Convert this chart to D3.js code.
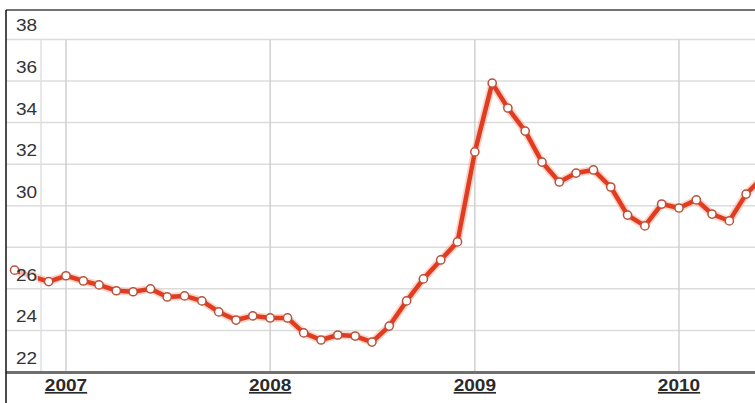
<!DOCTYPE html>
<html>
<head>
<meta charset="utf-8">
<script src="https://cdn.jsdelivr.net/npm/d3@7"></script>
<style>
  html, body { margin: 0; padding: 0; background: #fff; }
  svg { display: block; }
  text { font-family: "Liberation Sans", Arial, sans-serif; }
</style>
</head>
<body>
<svg id="chart" width="755" height="403"></svg>
<script>
// Monthly closing prices
const months = [
  "2006-10", "2006-11", "2006-12",
  "2007-01", "2007-02", "2007-03", "2007-04", "2007-05", "2007-06",
  "2007-07", "2007-08", "2007-09", "2007-10", "2007-11", "2007-12",
  "2008-01", "2008-02", "2008-03", "2008-04", "2008-05", "2008-06",
  "2008-07", "2008-08", "2008-09", "2008-10", "2008-11", "2008-12",
  "2009-01", "2009-02", "2009-03", "2009-04", "2009-05", "2009-06",
  "2009-07", "2009-08", "2009-09", "2009-10", "2009-11", "2009-12",
  "2010-01", "2010-02", "2010-03", "2010-04", "2010-05", "2010-06"
];
const prices = [
  26.9, 26.6, 26.35,
  26.63, 26.38, 26.19, 25.91, 25.86, 26.0,
  25.61, 25.66, 25.42, 24.89, 24.5, 24.7,
  24.6, 24.6, 23.88, 23.54, 23.78, 23.73,
  23.44, 24.21, 25.42, 26.48, 27.39, 28.26,
  32.59, 35.9, 34.7, 33.59, 32.1, 31.14,
  31.57, 31.72, 30.9, 29.55, 29.03, 30.08,
  29.89, 30.28, 29.6, 29.27, 30.56, 31.4
];
const gridValues = [22, 24, 26, 28, 30, 32, 34, 36, 38];
const yLabelValues = [22, 24, 26, 30, 32, 34, 36, 38];
const yearLabels = ["2007", "2008", "2009", "2010"];

const svg = d3.select("#chart");
const parse = d3.timeParse("%Y-%m");
const data = months.map((m, i) => ({ date: parse(m), value: prices[i] }));

const plotLeft = 6, plotRight = 755, plotTop = 10, plotBottom = 372;

const x = d3.scaleTime()
  .domain([new Date(2007, 0, 1), new Date(2010, 0, 1)])
  .range([66, 679]);
const y = d3.scaleLinear()
  .domain([22, 36])
  .range([plotBottom, 81]);

svg.append("defs").append("clipPath").attr("id", "plot")
  .append("rect").attr("x", plotLeft).attr("y", plotTop)
  .attr("width", plotRight - plotLeft).attr("height", plotBottom - plotTop);

// horizontal grid
svg.append("g").selectAll("line").data(gridValues.filter(v => v > 22)).join("line")
  .attr("x1", plotLeft).attr("x2", plotRight)
  .attr("y1", d => y(d)).attr("y2", d => y(d))
  .attr("stroke", "#dcdcdc").attr("stroke-width", 1.5);

// label column separator
svg.append("line")
  .attr("x1", 41).attr("x2", 41).attr("y1", y(38)).attr("y2", plotBottom)
  .attr("stroke", "#e0e0e0").attr("stroke-width", 1.5);

// year grid
svg.append("g").selectAll("line").data(yearLabels).join("line")
  .attr("x1", d => x(new Date(+d, 0, 1))).attr("x2", d => x(new Date(+d, 0, 1)))
  .attr("y1", y(38)).attr("y2", plotBottom)
  .attr("stroke", "#d0d0d0").attr("stroke-width", 1.5);

// price line
const line = d3.line().x(d => x(d.date)).y(d => y(d.value));
const plot = svg.append("g").attr("clip-path", "url(#plot)");
plot.append("path").datum(data).attr("d", line)
  .attr("fill", "none").attr("stroke", "#f4a07c").attr("stroke-width", 8)
  .attr("stroke-opacity", 0.45).attr("stroke-linejoin", "round");
plot.append("path").datum(data).attr("d", line)
  .attr("fill", "none").attr("stroke", "#e23b22").attr("stroke-width", 4.5)
  .attr("stroke-linejoin", "round");
plot.selectAll("circle").data(data).join("circle")
  .attr("cx", d => x(d.date)).attr("cy", d => y(d.value))
  .attr("r", 4.1).attr("fill", "#fff")
  .attr("stroke", "#b8523c").attr("stroke-width", 1.5);

// y labels, above their grid lines
const yl = svg.append("g").selectAll("g").data(yLabelValues).join("g")
  .attr("transform", d => `translate(16,${y(d) - 8})`);
yl.append("rect").attr("x", 4).attr("y", -13).attr("width", 18).attr("height", 15)
  .attr("fill", "#fff").attr("fill-opacity", 0.65);
yl.append("text")
  .attr("transform", "scale(1.12,1)")
  .attr("font-size", 17).attr("fill", "#333")
  .text(d => d);

// bottom axis
svg.append("line").attr("x1", plotLeft).attr("x2", plotRight)
  .attr("y1", plotBottom + 0.5).attr("y2", plotBottom + 0.5)
  .attr("stroke", "#707070").attr("stroke-width", 3);

svg.append("g").selectAll("text").data(yearLabels).join("text")
  .attr("transform", d => `translate(${x(new Date(+d, 0, 1))},${plotBottom + 19}) scale(1.12,1)`)
  .attr("text-anchor", "middle")
  .attr("font-size", 17).attr("font-weight", "bold").attr("fill", "#2a2a2a")
  .attr("text-decoration", "underline")
  .text(d => d);

// frame
svg.append("line").attr("x1", plotLeft).attr("x2", plotRight).attr("y1", plotTop).attr("y2", plotTop)
  .attr("stroke", "#444").attr("stroke-width", 1.5);
svg.append("line").attr("x1", plotLeft).attr("x2", plotLeft).attr("y1", plotTop).attr("y2", 403)
  .attr("stroke", "#111").attr("stroke-width", 1.5);
</script>
</body>
</html>
